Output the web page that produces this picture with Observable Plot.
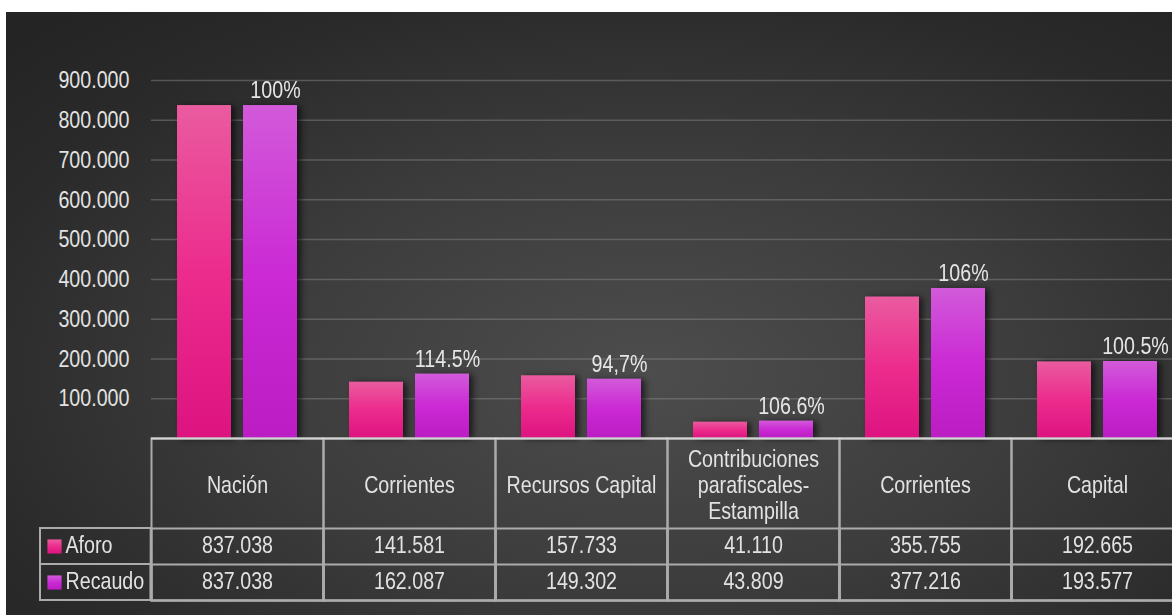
<!DOCTYPE html>
<html><head><meta charset="utf-8">
<script src="https://cdn.jsdelivr.net/npm/d3@7"></script>
<script src="https://cdn.jsdelivr.net/npm/@observablehq/plot@0.6"></script>
<style>
html,body{margin:0;padding:0;overflow:hidden;background:#fff;width:1172px;height:615px;}
#bg{position:absolute;left:6px;top:12px;right:0;bottom:0;
 background:radial-gradient(ellipse 75% 80% at 55% 60%, #4d4d4d 0%, #3c3c3c 45%, #2a2a2a 80%, #242424 100%);}
#chart{position:absolute;left:0;top:0;width:1184px;}
</style></head><body><div id="bg"></div><div id="chart"></div>
<script>
const headers = ["Nación", "Corrientes", "Recursos Capital", "Contribuciones\nparafiscales-\nEstampilla", "Corrientes", "Capital"];
const series = ["Aforo", "Recaudo"];
const aforo = [837038, 141581, 157733, 41110, 355755, 192665];
const recaudo = [837038, 162087, 149302, 43809, 377216, 193577];
const pct = ["100%", "114.5%", "94,7%", "106.6%", "106%", "100.5%"];
const yTicks = [100000, 200000, 300000, 400000, 500000, 600000, 700000, 800000, 900000];

const fmt = d3.formatLocale({decimal: ",", thousands: ".", grouping: [3], currency: ["", ""]}).format(",d");
const idx = d3.range(headers.length);
const fills = {Aforo: "url(#gA)", Recaudo: "url(#gR)"};
const values = {Aforo: aforo, Recaudo: recaudo};

const W = 1184, H = 615, mL = 150, mR = 0, mT = 80, mB = 177;
const plotH = H - mT - mB;
const colW = (W - mL - mR) / headers.length;
const headerH = 90, rowH = 36, legendW = 111;
const tableH = headerH + rowH * series.length;
const lineCol = "#ababab";
const txt = "#e2e2e2";

const rowDy = k => headerH + rowH * k + rowH / 2 - 1;

const marks = [
  Plot.gridY(yTicks, {stroke: "#8c8c8c", strokeOpacity: 0.45, strokeWidth: 1.5}),
  Plot.axisY(yTicks, {tickSize: 0, tickPadding: 22, tickFormat: fmt, fill: txt}),
  ...series.map(s => Plot.barY(idx, {fx: i => i, x: () => s, y: i => values[s][i], fill: fills[s]})),
  Plot.text(idx, {fx: i => i, x: () => "Recaudo", y: i => recaudo[i], text: i => pct[i], dy: -15, dx: 5, fill: "#e6e6e6"}),
  // table grid
  Plot.frame({stroke: lineCol, strokeWidth: 2, insetTop: plotH, insetBottom: -tableH}),
  ...series.map((s, k) => Plot.frame({stroke: lineCol, strokeWidth: 2, insetTop: plotH + headerH + rowH * k, insetBottom: -tableH})),
  ...series.map((s, k) => Plot.rect([s], {fx: () => 0, insetLeft: -legendW, insetRight: colW, insetTop: plotH + headerH + rowH * k, insetBottom: -tableH, fill: "none", stroke: lineCol, strokeWidth: 2})),
  Plot.ruleY([0], {stroke: "#d4d4d4", strokeWidth: 2}),
  // header texts
  Plot.text(idx, {fx: i => i, text: i => headers[i], frameAnchor: "bottom", lineAnchor: "middle", dy: headerH / 2 + 1, lineHeight: 1.1, fill: txt}),
  // value rows
  ...series.map((s, k) => Plot.text(idx, {fx: i => i, text: i => fmt(values[s][i]), frameAnchor: "bottom", lineAnchor: "middle", dy: rowDy(k), fill: txt})),
  // legend column
  ...series.map((s, k) => Plot.dot([s], {fx: () => 0, frameAnchor: "bottom-left", dx: -97, dy: rowDy(k) + 1, symbol: "square", r: 8, fill: fills[s]})),
  ...series.map((s, k) => Plot.text([s], {fx: () => 0, text: d => d, frameAnchor: "bottom-left", lineAnchor: "middle", textAnchor: "start", dx: -86, dy: rowDy(k), fill: txt}))
];

const chart = Plot.plot({
  width: W, height: H,
  marginLeft: mL, marginRight: mR, marginTop: mT, marginBottom: mB,
  style: {fontFamily: '"Liberation Sans", Arial, sans-serif', fontSize: "24px", color: txt, background: "transparent", overflow: "visible"},
  fx: {domain: idx, padding: 0, axis: null},
  x: {domain: series, paddingInner: 0.18, paddingOuter: 0.39, axis: null},
  y: {domain: [0, 900000]},
  marks
});

const svg = d3.select(chart);
const defs = svg.insert("defs", ":first-child");
const grads = {gA: ["#ea5b9f", "#ec2c8d", "#dd1380"], gR: ["#d25ada", "#cb2ad4", "#bb1cc3"]};
for (const [id, cols] of Object.entries(grads)) {
  const g = defs.append("linearGradient").attr("id", id).attr("x1", 0).attr("y1", 0).attr("x2", 0).attr("y2", 1);
  cols.forEach((c, j) => g.append("stop").attr("offset", j / (cols.length - 1)).attr("stop-color", c));
}
svg.selectAll('g[aria-label="bar"]').style("filter", "drop-shadow(4px 1px 3px rgba(0,0,0,0.6))");
// narrow the glyphs around each text's own anchor (Arial Narrow look)
svg.selectAll("text").each(function () {
  const t = this.getAttribute("transform") || "";
  this.setAttribute("transform", (t + " scale(0.82,1)").trim());
});
document.getElementById("chart").appendChild(chart);
</script>
</body></html>
